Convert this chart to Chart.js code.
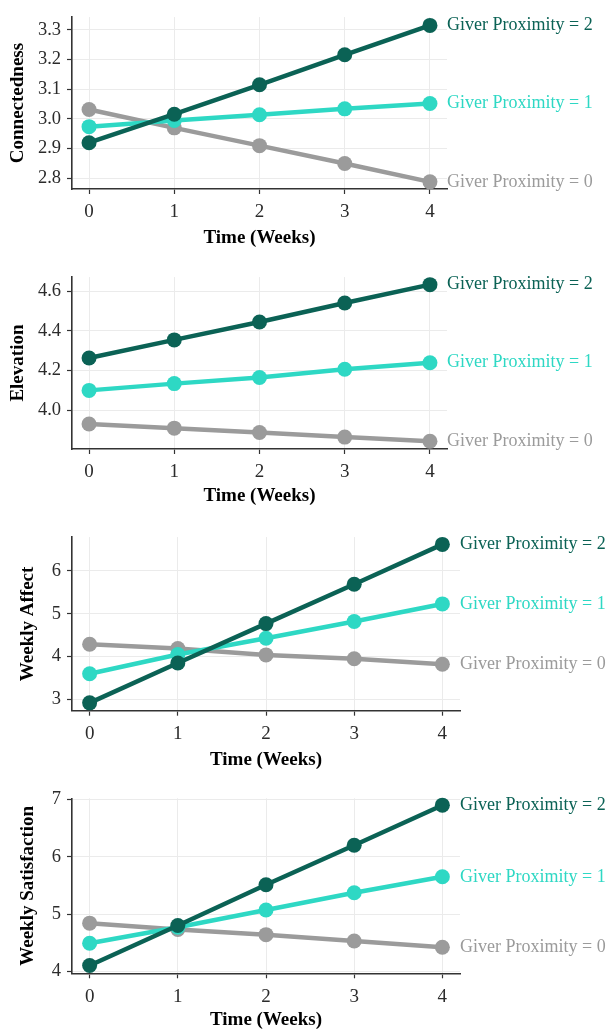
<!DOCTYPE html>
<html><head><meta charset="utf-8">
<script src="https://cdn.jsdelivr.net/npm/chart.js@4"></script>
<style>
html,body{margin:0;padding:0;background:#fff;width:610px;height:1031px;overflow:hidden;}
.panel{position:absolute;left:0;width:610px;}
</style></head><body>
<div class="panel" style="top:0px;height:255px"><canvas id="c0"></canvas></div>
<div class="panel" style="top:260px;height:255px"><canvas id="c1"></canvas></div>
<div class="panel" style="top:520px;height:258px"><canvas id="c2"></canvas></div>
<div class="panel" style="top:780px;height:251px"><canvas id="c3"></canvas></div>
<script>
// ---- data ----
const weeks = [0, 1, 2, 3, 4];
const seriesLabels = ['Giver Proximity = 2', 'Giver Proximity = 1', 'Giver Proximity = 0'];

const connectedness2 = [2.920, 3.016, 3.115, 3.216, 3.315];
const connectedness1 = [2.974, 2.995, 3.014, 3.034, 3.052];
const connectedness0 = [3.032, 2.970, 2.910, 2.850, 2.788];

const elevation2 = [4.263, 4.354, 4.444, 4.540, 4.632];
const elevation1 = [4.100, 4.134, 4.165, 4.206, 4.239];
const elevation0 = [3.931, 3.910, 3.888, 3.865, 3.844];

const affect2 = [2.92, 3.85, 4.77, 5.69, 6.62];
const affect1 = [3.60, 4.05, 4.43, 4.82, 5.23];
const affect0 = [4.29, 4.19, 4.04, 3.95, 3.82];

const satisfaction2 = [4.10, 4.80, 5.51, 6.20, 6.90];
const satisfaction1 = [4.49, 4.77, 5.07, 5.37, 5.65];
const satisfaction0 = [4.84, 4.73, 4.64, 4.53, 4.42];

const xTicks = [0, 1, 2, 3, 4];
const connectednessTicks = [2.8, 2.9, 3.0, 3.1, 3.2, 3.3];
const elevationTicks = [4.0, 4.2, 4.4, 4.6];
const affectTicks = [3, 4, 5, 6];
const satisfactionTicks = [4, 5, 6, 7];

// ---- styling / layout ----
const COLORS = ['#0b6255', '#2ed8c4', '#9b9b9b'];
const FONT = '"Liberation Serif", "DejaVu Serif", serif';

const panels = [
  {id:'c0', title:'Connectedness', s:[connectedness2, connectedness1, connectedness0], ticks:connectednessTicks, dec:1,
   min:2.764, max:3.343, pad:{left:6.6, top:13, right:163, bottom:5.6}, xh:60.4},
  {id:'c1', title:'Elevation', s:[elevation2, elevation1, elevation0], ticks:elevationTicks, dec:1,
   min:3.805, max:4.670, pad:{left:6.6, top:13, right:163, bottom:7.6}, xh:58.4},
  {id:'c2', title:'Weekly Affect', s:[affect2, affect1, affect0], ticks:affectTicks, dec:0,
   min:2.737, max:6.79, pad:{left:16.6, top:15, right:150, bottom:6.6}, xh:60.7},
  {id:'c3', title:'Weekly Satisfaction', s:[satisfaction2, satisfaction1, satisfaction0], ticks:satisfactionTicks, dec:0,
   min:3.965, max:7.02, pad:{left:16.6, top:18.3, right:150, bottom:0}, xh:57.7}
];

const endLabels = {
  id: 'endLabels',
  afterDatasetsDraw(chart) {
    const {ctx, chartArea} = chart;
    ctx.save();
    ctx.font = '18px ' + FONT;
    ctx.textAlign = 'left';
    ctx.textBaseline = 'middle';
    chart.data.datasets.forEach((ds, i) => {
      const meta = chart.getDatasetMeta(i);
      const pt = meta.data[meta.data.length - 1];
      ctx.fillStyle = ds.borderColor;
      ctx.fillText(ds.label, chartArea.right, pt.y);
    });
    ctx.restore();
  }
};

panels.forEach(p => {
  const datasets = p.s.map((vals, i) => ({
    label: seriesLabels[i],
    data: weeks.map((w, j) => ({x: w, y: vals[j]})),
    borderColor: COLORS[i],
    backgroundColor: COLORS[i],
    pointBackgroundColor: COLORS[i],
    pointBorderWidth: 0,
    borderWidth: 4.5,
    pointRadius: 7.5,
    pointHoverRadius: 7.5,
    tension: 0,
    clip: false
  }));
  new Chart(document.getElementById(p.id), {
    type: 'line',
    data: {datasets},
    options: {
      responsive: true,
      maintainAspectRatio: false,
      animation: false,
      events: [],
      layout: {padding: p.pad},
      plugins: {legend: {display: false}, tooltip: {enabled: false}},
      scales: {
        x: {
          type: 'linear', min: -0.2, max: 4.2,
          afterBuildTicks: s => { s.ticks = xTicks.map(v => ({value: v})); },
          afterFit: s => { s.height = p.xh; },
          grid: {color: '#ebebeb', lineWidth: 1, tickLength: 5, tickColor: '#333', tickWidth: 1.2},
          border: {color: '#333', width: 1.6},
          ticks: {color: '#2b2b2b', font: {family: FONT, size: 19}, padding: 7, maxRotation: 0,
                  callback: v => String(v)},
          title: {display: true, text: 'Time (Weeks)', color: '#000', font: {family: FONT, size: 19, weight: 'bold'}, padding: 0}
        },
        y: {
          type: 'linear', min: p.min, max: p.max,
          afterBuildTicks: s => { s.ticks = p.ticks.map(v => ({value: v})); },
          afterFit: s => { s.width = 72 - p.pad.left; },
          grid: {color: '#ebebeb', lineWidth: 1, tickLength: 5, tickColor: '#333', tickWidth: 1.2},
          border: {color: '#333', width: 1.6},
          ticks: {color: '#2b2b2b', font: {family: FONT, size: 18.5}, padding: 6,
                  callback: v => Number(v).toFixed(p.dec)},
          title: {display: true, text: p.title, color: '#000', font: {family: FONT, size: 19, weight: 'bold'}, padding: 0}
        }
      }
    },
    plugins: [endLabels]
  });
});
</script>
</body></html>
